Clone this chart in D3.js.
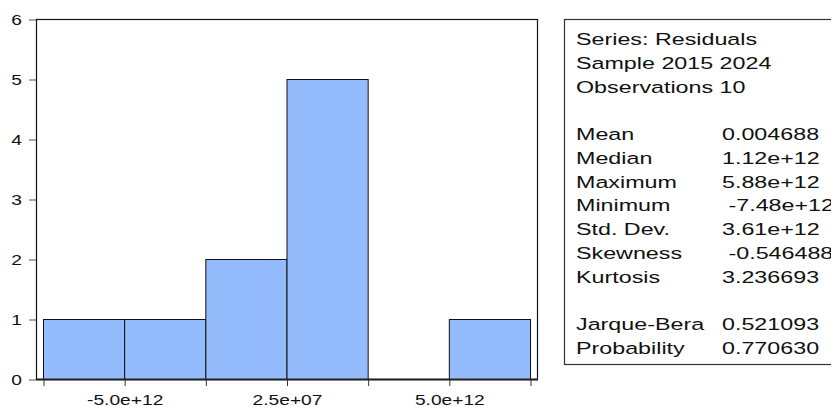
<!DOCTYPE html>
<html>
<head>
<meta charset="utf-8">
<script src="https://cdn.jsdelivr.net/npm/d3@7"></script>
<style>
  body { margin: 0; background: #fff; }
  svg { display: block; font-family: "Liberation Sans", Arial, sans-serif; }
  text { white-space: pre; fill: #111; }
</style>
</head>
<body>
<svg id="chart"></svg>
<script>
const width = 831, height = 407;

// histogram bins (residuals) and counts
const binEdges = [-7.5e12, -5e12, -2.5e12, 0, 2.5e12, 5e12, 7.5e12];
const counts = [1, 1, 2, 5, 0, 1];
const xTickLabels = {"-5000000000000": "-5.0e+12", "0": "2.5e+07", "5000000000000": "5.0e+12"};
const yTicks = [0, 1, 2, 3, 4, 5, 6];

// descriptive statistics panel
const headerLines = ["Series: Residuals", "Sample 2015 2024", "Observations 10"];
const statNames = ["Mean", "Median", "Maximum", "Minimum", "Std. Dev.", "Skewness", "Kurtosis", "", "Jarque-Bera", "Probability"];
const statValues = ["0.004688", "1.12e+12", "5.88e+12", " -7.48e+12", "3.61e+12", " -0.546488", "3.236693", "", "0.521093", "0.770630"];

const svg = d3.select("#chart")
    .attr("width", width)
    .attr("height", height);

// zone du graphique
const frame = {left: 36, right: 537, top: 19, bottom: 379};
const sx = 1.28; // étirement horizontal du texte des axes

const x = d3.scaleLinear()
    .domain([binEdges[0], binEdges[binEdges.length - 1]])
    .range([43, 530]);

const y = d3.scaleLinear()
    .domain([0, 6])
    .range([frame.bottom, frame.top]);

const bins = counts.map((c, i) => ({x0: binEdges[i], x1: binEdges[i + 1], count: c}));

// cadre
svg.append("rect")
    .attr("x", frame.left + 0.5)
    .attr("y", frame.top + 0.5)
    .attr("width", frame.right - frame.left)
    .attr("height", frame.bottom - frame.top)
    .attr("fill", "none")
    .attr("stroke", "#111")
    .attr("stroke-width", 1.2);

// barres
svg.selectAll(".bar")
    .data(bins.filter(d => d.count > 0))
    .enter().append("rect")
    .attr("class", "bar")
    .attr("x", d => x(d.x0) + 0.5)
    .attr("y", d => y(d.count) + 0.5)
    .attr("width", d => x(d.x1) - x(d.x0))
    .attr("height", d => y(0) - y(d.count))
    .attr("fill", "#94bbfb")
    .attr("stroke", "#111")
    .attr("stroke-width", 1);

// ligne de base
svg.append("line")
    .attr("x1", frame.left)
    .attr("x2", frame.right + 1)
    .attr("y1", frame.bottom + 0.5)
    .attr("y2", frame.bottom + 0.5)
    .attr("stroke", "#222")
    .attr("stroke-width", 2);

// axe Y
const yAxis = svg.append("g")
    .attr("transform", `translate(${frame.left},0.5)`)
    .call(d3.axisLeft(y).tickValues(yTicks).tickSize(7).tickFormat(d3.format("d")));
yAxis.select(".domain").remove();
yAxis.selectAll("line").attr("stroke", "#555");
yAxis.selectAll("text")
    .attr("font-size", 15)
    .attr("fill", "#111")
    .attr("transform", `scale(${sx},1)`)
    .attr("x", -14 / sx);

// axe X
const xAxis = svg.append("g")
    .attr("transform", `translate(0.5,${frame.bottom + 1})`)
    .call(d3.axisBottom(x).tickValues(binEdges).tickSize(6).tickPadding(8)
        .tickFormat(d => xTickLabels[String(d)] || ""));
xAxis.select(".domain").remove();
xAxis.selectAll("line").attr("stroke", "#333");
xAxis.selectAll("text")
    .attr("font-size", 15)
    .attr("fill", "#111")
    .attr("transform", `scale(${sx},1)`);

// panneau des statistiques
svg.append("rect")
    .attr("x", 564.5)
    .attr("y", 19.5)
    .attr("width", 300)
    .attr("height", 345)
    .attr("fill", "#fff")
    .attr("stroke", "#333")
    .attr("stroke-width", 1.2);

const lineH = 23.75, firstBase = 45;
const rows = headerLines.map(t => [t, ""]).concat([["", ""]])
    .concat(statNames.map((n, i) => [n, statValues[i]]));

const rowG = svg.selectAll(".stat-row")
    .data(rows)
    .enter().append("g")
    .attr("class", "stat-row");

rowG.append("text")
    .attr("transform", (d, i) => `translate(576,${firstBase + i * lineH}) scale(1.37,1)`)
    .attr("font-size", 17)
    .text(d => d[0]);

rowG.append("text")
    .attr("transform", (d, i) => `translate(722,${firstBase + i * lineH}) scale(1.37,1)`)
    .attr("font-size", 17)
    .text(d => d[1]);
</script>
</body>
</html>
